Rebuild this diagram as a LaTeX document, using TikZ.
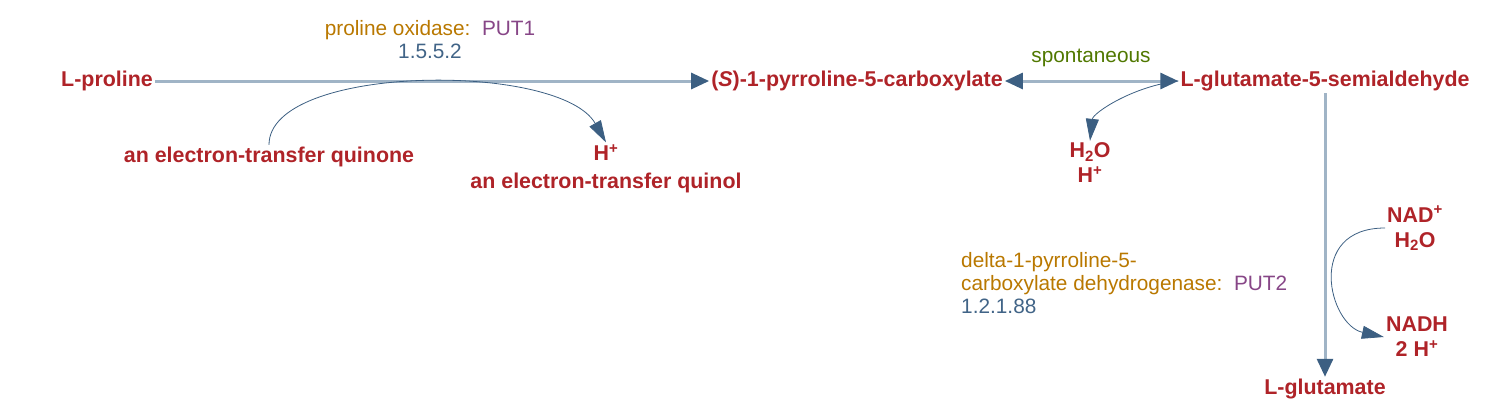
\documentclass[tikz,border=0pt]{standalone}
\usepackage{fontspec}
\setmainfont{Liberation Sans}
\usetikzlibrary{arrows.meta}
\definecolor{cpdred}{RGB}{175,35,40}
\definecolor{enzbrown}{RGB}{185,120,0}
\definecolor{genepurple}{RGB}{135,70,135}
\definecolor{ecblue}{RGB}{65,100,135}
\definecolor{spontgreen}{RGB}{80,120,0}
\definecolor{lineblue}{RGB}{160,180,198}
\definecolor{tipblue}{RGB}{60,95,130}
\begin{document}
\begin{tikzpicture}[x=1pt, y=-1pt,
		cpd/.style={text=cpdred, font=\fontsize{21.4}{25}\selectfont\bfseries, inner sep=2pt, align=center},
		lbl/.style={font=\fontsize{20.8}{23}\selectfont, inner sep=0pt},
		mainline/.style={draw=lineblue, line width=3pt, >={Triangle[length=18pt,width=16pt,color=tipblue]}},
		sideline/.style={draw=tipblue, line width=0.8pt, -{Triangle[length=22pt,width=13pt,color=tipblue]}}]
	\useasboundingbox (0,0) rectangle (1512,408);
	
	% compounds
	\node[cpd] (proline) at (107, 81) {L-proline};
	\node[cpd] (pfc) at (857, 81) {(\textit{S})-1-pyrroline-5-carboxylate};
	\node[cpd] (gsa) at (1325, 81) {L-glutamate-5-semialdehyde};
	\node[cpd] (glu) at (1325, 389) {L-glutamate};
	\node[cpd] (quinone) at (269, 157) {an electron-transfer quinone};
	\node[cpd] (quinol) at (606, 169) {H\textsuperscript{+}\\[3pt]an electron-transfer quinol};
	\node[cpd] (water) at (1090, 163) {H\textsubscript{2}O\\H\textsuperscript{+}};
	\node[cpd] (nad) at (1415, 228) {NAD\textsuperscript{+}\\H\textsubscript{2}O};
	\node[cpd] (nadh) at (1417, 337) {NADH\\2 H\textsuperscript{+}};
	
	% enzymes
	\node[lbl, align=center] (enzput1) at (430, 40) {\color{enzbrown}proline oxidase:~~\color{genepurple}PUT1\\\color{ecblue}1.5.5.2};
	\node[lbl, text=spontgreen] (spont) at (1091, 58) {spontaneous};
	\node[lbl, align=left, anchor=west] (enzput2) at (961, 283) {\color{enzbrown}delta-1-pyrroline-5-\\\color{enzbrown}carboxylate dehydrogenase:~~\color{genepurple}PUT2\\\color{ecblue}1.2.1.88};
	
	% reactions
	\draw[mainline, ->] (proline) -- (pfc);
	\draw[sideline] (quinone.north) .. controls +(0,-81) and +(-46,-81) .. (quinol.north);
	\draw[mainline, <->] (pfc) -- (gsa);
	\draw[sideline] (gsa.west) .. controls +(-45,5) and +(3,-28) .. (water.north);
	\draw[mainline, ->] (gsa) -- (glu);
	\draw[sideline] (nad.west) .. controls +(-80,0) and +(-55,-12) .. (nadh.west);
\end{tikzpicture}
\end{document}
